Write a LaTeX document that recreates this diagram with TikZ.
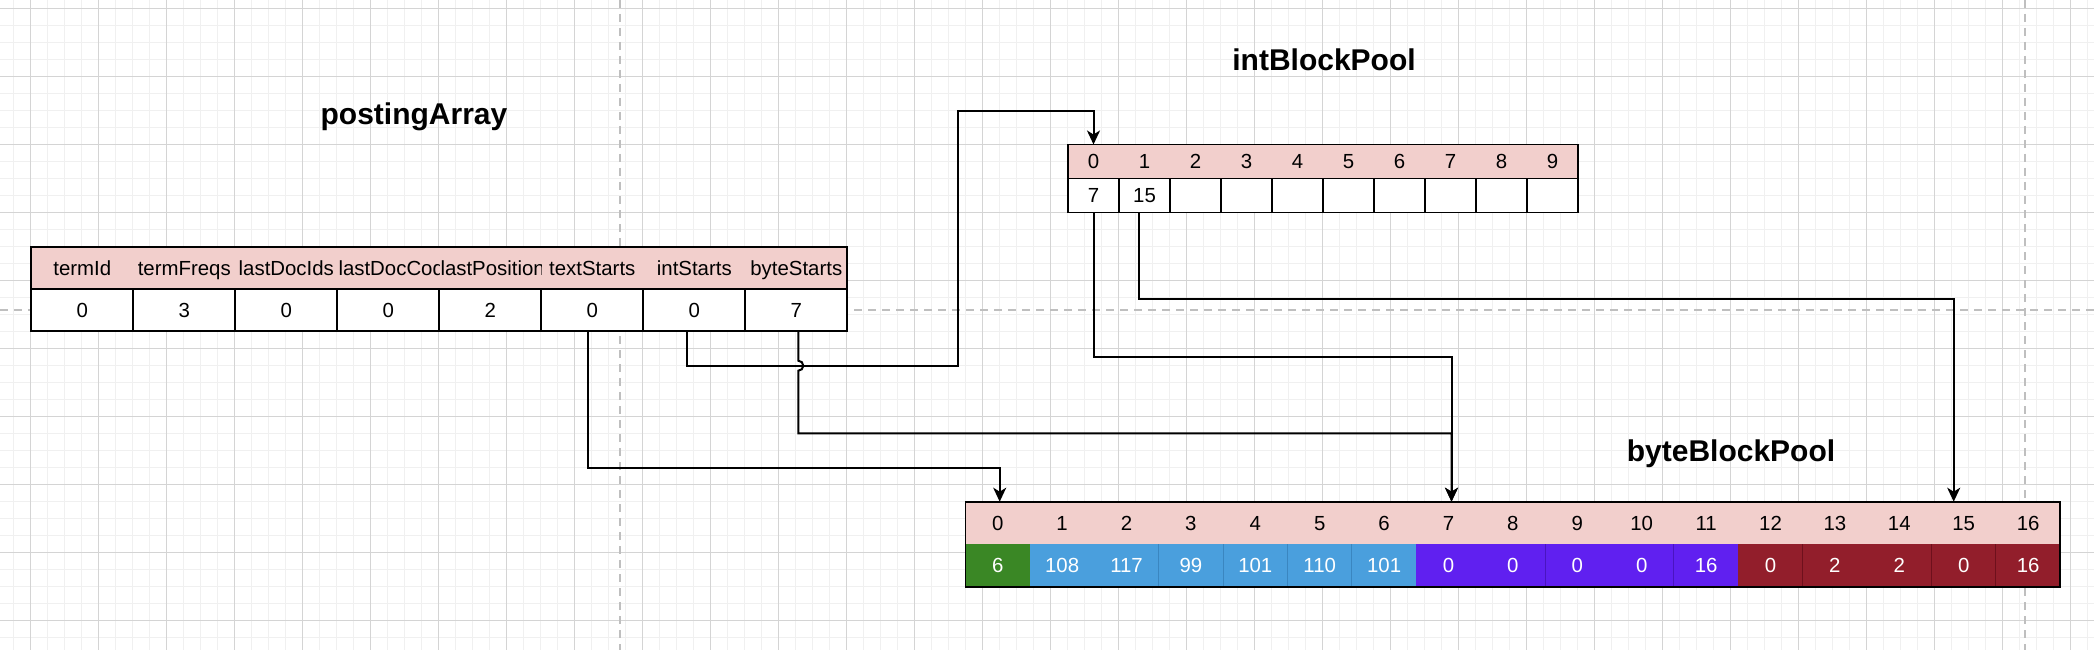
\documentclass[tikz,border=0pt]{standalone}
\usepackage{fontspec}
\setmainfont{Liberation Sans}
\usetikzlibrary{arrows.meta}

\definecolor{hdrpink}{HTML}{F2CFCC}
\definecolor{gridminor}{HTML}{F0F0F0}
\definecolor{gridmajor}{HTML}{D4D4D4}
\definecolor{pagebreak}{HTML}{BFBFBF}
\definecolor{lenGreen}{HTML}{3A8725}
\definecolor{charBlue}{HTML}{4A9FDD}
\definecolor{charBlueDk}{HTML}{3A86C0}
\definecolor{docPurple}{HTML}{6020F0}
\definecolor{docPurpleDk}{HTML}{4A14C0}
\definecolor{posRed}{HTML}{921E2B}
\definecolor{posRedDk}{HTML}{6E101C}

\tikzset{
    cellfont/.style={font=\fontsize{20.4}{24}\selectfont, text height=14.6pt, text depth=0pt},
    titlefont/.style={font=\bfseries\fontsize{30}{36}\selectfont, text height=21.5pt, text depth=0pt},
    hdrcell/.style={cellfont, inner sep=0pt, outer sep=0pt, anchor=north west},
    bodycell/.style={cellfont, inner sep=0pt, outer sep=0pt, anchor=north west},
    link/.style={line width=2pt},
}

\begin{document}
\begin{tikzpicture}[
    x=1pt, y=-1pt,
    >={Stealth[length=14pt, width=13pt, inset=4pt]}
]

    % Canvas with the editor grid
    \useasboundingbox (0,0) rectangle (2094,650);
    \fill[white] (0,0) rectangle (2094,650);
    \foreach \gx in {13.4,30.4,...,2094} \draw[gridminor, line width=1pt] (\gx,0) -- (\gx,650);
    \foreach \gy in {8.3,25.3,...,650} \draw[gridminor, line width=1pt] (0,\gy) -- (2094,\gy);
    \foreach \gx in {30.4,98.4,...,2094} \draw[gridmajor, line width=1pt] (\gx,0) -- (\gx,650);
    \foreach \gy in {8.3,76.3,...,650} \draw[gridmajor, line width=1pt] (0,\gy) -- (2094,\gy);

    % Page break lines
    \draw[pagebreak, line width=1.5pt, dash pattern=on 8pt off 6pt]
        (620,0) -- (620,650) (2025,0) -- (2025,650) (0,310) -- (2094,310);

    % Titles
    \node[titlefont] (paTitle) at (414,113.3) {postingArray};
    \node[titlefont] (ibTitle) at (1324,60) {intBlockPool};
    \node[titlefont] (bbTitle) at (1731,451.2) {byteBlockPool};

    % postingArray: one header row, one value row
    \def\paX{31.3}  \def\paW{102}
    \def\paTop{247} \def\paMid{289}
    \filldraw[fill=hdrpink, line width=1.7pt] (\paX,\paTop) rectangle ({\paX+8*\paW},\paMid);
    \foreach \lbl [count=\i from 0] in {termId,termFreqs,lastDocIds,{},{},textStarts,intStarts,byteStarts}
        \node[hdrcell, minimum width=\paW pt, minimum height=42pt] (pa-h\i) at ({\paX+\i*\paW},\paTop) {\lbl};
    % the two long names are cut at their cell
    \begin{scope}
        \clip (pa-h3.north west) rectangle (pa-h3.south east);
        \node[cellfont, anchor=west, inner sep=0pt] (pa-t3) at ([xshift=1pt]pa-h3.west) {lastDocCodes};
    \end{scope}
    \begin{scope}
        \clip (pa-h4.north west) rectangle (pa-h4.south east);
        \node[cellfont, anchor=west, inner sep=0pt] (pa-t4) at ([xshift=1pt]pa-h4.west) {lastPositions};
    \end{scope}
    \foreach \val [count=\i from 0] in {0,3,0,0,2,0,0,7}
        \node[bodycell, draw, fill=white, line width=1.7pt, minimum width=\paW pt, minimum height=42pt] (pa-v\i) at ({\paX+\i*\paW},\paMid) {\val};

    % intBlockPool: slots 0..9
    \def\ibX{1068}    \def\ibW{51}
    \def\ibTop{144.5} \def\ibMid{178.5}
    \filldraw[fill=hdrpink, line width=1.7pt] (\ibX,\ibTop) rectangle ({\ibX+10*\ibW},\ibMid);
    \foreach \i in {0,...,9}
        \node[hdrcell, minimum width=\ibW pt, minimum height=34pt] (ib-h\i) at ({\ibX+\i*\ibW},\ibTop) {\i};
    \foreach \val [count=\i from 0] in {7,15,{},{},{},{},{},{},{},{}}
        \node[bodycell, draw, fill=white, line width=1.7pt, minimum width=\ibW pt, minimum height=34pt] (ib-v\i) at ({\ibX+\i*\ibW},\ibMid) {\val};

    % byteBlockPool: slots 0..16, coloured by what they hold
    \def\bbX{965.5}   \def\bbW{64.4}
    \def\bbTop{501.7} \def\bbMid{544} \def\bbBot{587}
    \fill[hdrpink] (\bbX,\bbTop) rectangle ({\bbX+17*\bbW},\bbMid);
    \foreach \i in {0,...,16}
        \node[hdrcell, minimum width=\bbW pt, minimum height=42.3pt] (bb-h\i) at ({\bbX+\i*\bbW},\bbTop) {\i};
    \foreach \val/\clr [count=\i from 0] in {6/lenGreen,108/charBlue,117/charBlue,99/charBlue,101/charBlue,110/charBlue,101/charBlue,0/docPurple,0/docPurple,0/docPurple,0/docPurple,16/docPurple,0/posRed,2/posRed,2/posRed,0/posRed,16/posRed}
        \node[bodycell, fill=\clr, draw=\clr, line width=0.5pt, text=white, minimum width=\bbW pt, minimum height=43pt] (bb-v\i) at ({\bbX+\i*\bbW},\bbMid) {\val};
    \foreach \k/\clr in {3/charBlueDk,4/charBlueDk,5/charBlueDk,6/charBlueDk,9/docPurpleDk,11/docPurpleDk,13/posRedDk,15/posRedDk,16/posRedDk}
        \draw[\clr, line width=1pt] (bb-v\k.north west) -- (bb-v\k.south west);
    \draw[line width=1.7pt] (\bbX,\bbTop) rectangle ({\bbX+17*\bbW},\bbBot);

    % Pointers into the pools
    \draw[link,->] ([xshift=-7pt]pa-v6.south) -- ++(0,34.7) -- ++(270.7,0)
        |- ([yshift=33.8pt]ib-h0.north) -- (ib-h0.north);
    \draw[link,->] ([xshift=2pt]pa-v7.south) -- ++(0,29.7)
        arc[start angle=-90, end angle=90, radius=5] -- ++(0,62.6) -| ([xshift=3pt]bb-h7.north);
    \draw[link,->] (ib-v0.south) -- ++(0,144.8) -| ([xshift=3pt]bb-h7.north);
    \draw[link,->] ([xshift=-4pt]pa-v5.south) -- ++(0,136.7) -| ([xshift=2pt]bb-h0.north);
    \draw[link,->] ([xshift=-6pt]ib-v1.south) -- ++(0,86.5) -| ([xshift=-10pt]bb-h15.north);

\end{tikzpicture}
\end{document}
